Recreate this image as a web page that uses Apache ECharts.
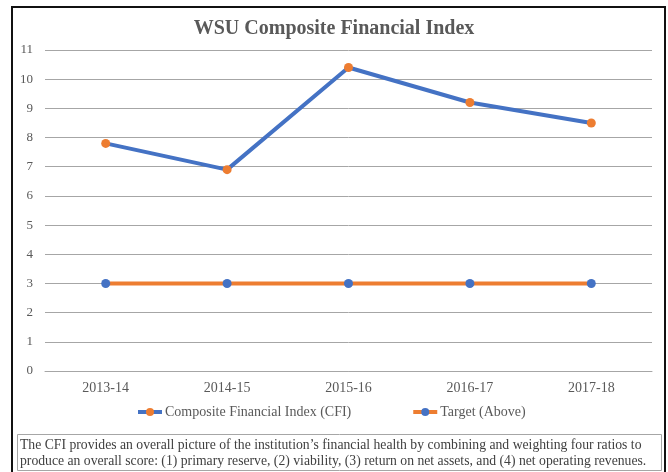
<!DOCTYPE html>
<html>
<head>
<meta charset="utf-8">
<script src="https://cdn.jsdelivr.net/npm/echarts@6/dist/echarts.min.js"></script>
<style>
html, body { margin: 0; padding: 0; background: #fff; }
</style>
</head>
<body>
<div id="ch" style="width: 668px; height: 472px;"></div>
<script>
var years = ['2013-14', '2014-15', '2015-16', '2016-17', '2017-18']
var cfiValues = [7.8, 6.9, 10.4, 9.2, 8.5]
var targetValues = [3, 3, 3, 3, 3]
var yTicks = [0, 1, 2, 3, 4, 5, 6, 7, 8, 9, 10, 11]

var serif = '"Liberation Serif", "DejaVu Serif", serif'
var blue = '#4472C4'
var orange = '#ED7D31'
var note = 'The CFI provides an overall picture of the institution\u2019s financial health by combining and weighting four ratios to\n' +
    'produce an overall score: (1) primary reserve, (2) viability, (3) return on net assets, and (4) net operating revenues.'

var chartInst = echarts.init(document.getElementById('ch'))
var option = {
    animation: false,
    title: {
        text: 'WSU Composite Financial Index',
        left: 'center',
        top: 14,
        textStyle: {
            fontFamily: serif,
            fontSize: 20,
            fontWeight: 'bold',
            color: '#595959'
        }
    },
    grid: {
        left: 45,
        right: 16,
        top: 50,
        bottom: 101
    },
    xAxis: {
        type: 'category',
        data: years,
        axisLine: { lineStyle: { color: '#A6A6A6' } },
        axisTick: { show: false },
        axisLabel: {
            fontFamily: serif,
            fontSize: 14,
            color: '#595959',
            margin: 10
        }
    },
    yAxis: {
        type: 'value',
        min: yTicks[0],
        max: yTicks[yTicks.length - 1],
        interval: 1,
        axisLine: { show: false },
        axisTick: { show: false },
        splitLine: { lineStyle: { color: '#A6A6A6', width: 1 } },
        axisLabel: {
            fontFamily: serif,
            fontSize: 13,
            color: '#595959',
            margin: 12
        }
    },
    legend: {
        bottom: 48,
        left: 131,
        itemGap: 60,
        itemWidth: 24,
        itemHeight: 10,
        lineStyle: { width: 4 },
        textStyle: {
            fontFamily: serif,
            fontSize: 14,
            color: '#595959',
            padding: [0, 0, 0, -2]
        },
        data: ['Composite Financial Index (CFI)', 'Target (Above)']
    },
    series: [{
        name: 'Composite Financial Index (CFI)',
        type: 'line',
        data: cfiValues,
        symbol: 'circle',
        symbolSize: 9,
        lineStyle: { color: blue, width: 4 },
        itemStyle: { color: orange }
    }, {
        name: 'Target (Above)',
        type: 'line',
        data: targetValues,
        symbol: 'circle',
        symbolSize: 9,
        lineStyle: { color: orange, width: 4 },
        itemStyle: { color: blue }
    }],
    graphic: [{
        type: 'rect',
        shape: { x: 12, y: 7, width: 653, height: 470 },
        style: { fill: null, stroke: '#111', lineWidth: 2 },
        silent: true
    }, {
        type: 'rect',
        shape: { x: 17.5, y: 434.5, width: 644, height: 36 },
        style: { fill: null, stroke: '#A6A6A6', lineWidth: 1 },
        silent: true
    }, {
        type: 'text',
        left: 20,
        top: 437,
        style: {
            text: note,
            fontFamily: serif,
            fontSize: 13.7,
            lineHeight: 16,
            fill: '#404040'
        }
    }]
}
chartInst.setOption(option)
</script>
</body>
</html>
